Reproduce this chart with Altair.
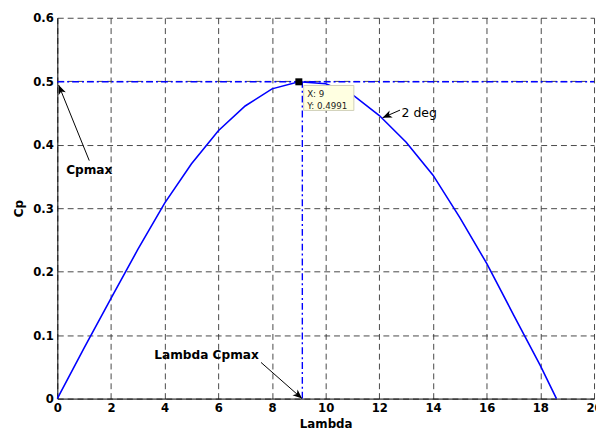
import math
import altair as alt
import pandas as pd

# ---- data ----
lam = [0, 1, 2, 3, 4, 5, 6, 7, 8, 9, 10, 11, 12, 13, 14, 15, 16, 17, 18, 18.6]
cp = [0, 0.08, 0.158, 0.235, 0.308, 0.37, 0.422, 0.461, 0.488, 0.4991, 0.496,
      0.479, 0.446, 0.404, 0.352, 0.285, 0.213, 0.132, 0.052, 0]

x_ticks = list(range(0, 21, 2))
y_ticks = [0, 0.1, 0.2, 0.3, 0.4, 0.5, 0.6]

cpmax = 0.4991
lam_at_cpmax = 9
vline_x = 9.13

# annotation texts
ann_text = ["Cpmax", "Lambda Cpmax"]
ann_x = [1.19, 5.56]
ann_y = [0.36, 0.069]
deg_text = ["2 deg"]
deg_x = [12.83]
deg_y = [0.450]

# arrows: start -> tip
arr_x = [1.19, 7.59, 12.77]
arr_y = [0.375, 0.057, 0.4545]
arr_tx = [0.05, 9.12, 12.12]
arr_ty = [0.494, 0.0, 0.4425]

# data tip
tip_lines = ["X: 9", "Y: 0.4991"]
tip_lx = [9.31, 9.31]
tip_ly = [0.4793, 0.4612]
box_x = [9.18]
box_x2 = [11.05]
box_y = [0.4933]
box_y2 = [0.454]

W, H = 544, 386
FONT = "DejaVu Sans"

xs = alt.Scale(domain=[0, 20], nice=False, zero=False)
ys = alt.Scale(domain=[0, 0.6], nice=False, zero=False)

curve_df = pd.DataFrame({"lam": lam, "cp": cp})

base_axes = alt.Chart(pd.DataFrame({"lam": [0], "cp": [0]})).mark_point(opacity=0).encode(
    x=alt.X("lam:Q", scale=xs, title="Lambda",
            axis=alt.Axis(values=x_ticks, format="d", grid=True, tickSize=0,
                          labelPadding=4, titlePadding=5)),
    y=alt.Y("cp:Q", scale=ys, title="Cp",
            axis=alt.Axis(values=y_ticks, format=".1~f", grid=True, tickSize=0,
                          labelPadding=4, titlePadding=7)),
)

curve = alt.Chart(curve_df).mark_line(color="#0000ff", strokeWidth=1.6).encode(
    x=alt.X("lam:Q", scale=xs), y=alt.Y("cp:Q", scale=ys))

hline = alt.Chart(pd.DataFrame({"x": [0], "x2": [20], "y": [cpmax]})).mark_rule(
    color="#0000ff", strokeWidth=1.4, strokeDash=[7, 3, 2, 3]).encode(
    x=alt.X("x:Q", scale=xs), x2="x2:Q", y=alt.Y("y:Q", scale=ys))

vline = alt.Chart(pd.DataFrame({"x": [vline_x], "y": [0], "y2": [cpmax]})).mark_rule(
    color="#0000ff", strokeWidth=1.4, strokeDash=[7, 3, 2, 3]).encode(
    x=alt.X("x:Q", scale=xs), y=alt.Y("y:Q", scale=ys), y2="y2:Q")

marker = alt.Chart(pd.DataFrame({"x": [lam_at_cpmax], "y": [cpmax]})).mark_square(
    color="black", size=50, opacity=1).encode(
    x=alt.X("x:Q", scale=xs), y=alt.Y("y:Q", scale=ys))

box = alt.Chart(pd.DataFrame({"x": box_x, "x2": box_x2, "y": box_y, "y2": box_y2})).mark_rect(
    fill="#ffffe1", stroke="#d0d0b8", strokeWidth=1).encode(
    x=alt.X("x:Q", scale=xs), x2="x2:Q", y=alt.Y("y:Q", scale=ys), y2="y2:Q")

tip_text = alt.Chart(pd.DataFrame({"x": tip_lx, "y": tip_ly, "t": tip_lines})).mark_text(
    align="left", baseline="middle", font=FONT, fontSize=8.8, color="#222").encode(
    x=alt.X("x:Q", scale=xs), y=alt.Y("y:Q", scale=ys), text="t:N")

ann = alt.Chart(pd.DataFrame({"x": ann_x, "y": ann_y, "t": ann_text})).mark_text(
    align="center", baseline="middle", font=FONT, fontSize=12.3, fontWeight="bold",
    color="black").encode(
    x=alt.X("x:Q", scale=xs), y=alt.Y("y:Q", scale=ys), text="t:N")

deg = alt.Chart(pd.DataFrame({"x": deg_x, "y": deg_y, "t": deg_text})).mark_text(
    align="left", baseline="middle", font=FONT, fontSize=12.6, color="black").encode(
    x=alt.X("x:Q", scale=xs), y=alt.Y("y:Q", scale=ys), text="t:N")

px_x = W / 20.0
px_y = H / 0.6
angles = []
for sx, sy, tx, ty in zip(arr_x, arr_y, arr_tx, arr_ty):
    a = math.degrees(math.atan2((tx - sx) * px_x, (ty - sy) * px_y)) % 360
    angles.append(a)

arr_df = pd.DataFrame({"x": arr_x, "y": arr_y, "tx": arr_tx, "ty": arr_ty, "a": angles})

arrow_lines = alt.Chart(arr_df).mark_rule(color="black", strokeWidth=1).encode(
    x=alt.X("x:Q", scale=xs), y=alt.Y("y:Q", scale=ys), x2="tx:Q", y2="ty:Q")

arrow_heads = alt.Chart(arr_df).mark_point(
    shape="M0,0L-0.45,1.1L0,0.8L0.45,1.1Z", filled=True, color="black",
    size=300, opacity=1, strokeWidth=0).encode(
    x=alt.X("tx:Q", scale=xs), y=alt.Y("ty:Q", scale=ys),
    angle=alt.Angle("a:Q", scale=None))

chart = alt.layer(
    base_axes, hline, vline, curve, marker, box, tip_text, ann, deg,
    arrow_lines, arrow_heads
).properties(
    width=W, height=H,
    autosize=alt.AutoSizeParams(type="none"),
    padding={"left": 50, "top": 7, "right": 2, "bottom": 34},
).configure_view(stroke=None).configure_axis(
    labelFont=FONT, labelFontSize=11.8, labelFontWeight="bold", labelColor="black",
    titleFont=FONT, titleFontSize=12, titleFontWeight="bold", titleColor="black",
    gridColor="#333333", gridDash=[6, 4], gridWidth=1, gridOpacity=0.9,
    domainColor="black", domainWidth=1,
).configure_axisX(labelFlush=False)

chart.save("out.html", embed_options={"renderer": "svg", "actions": False})
